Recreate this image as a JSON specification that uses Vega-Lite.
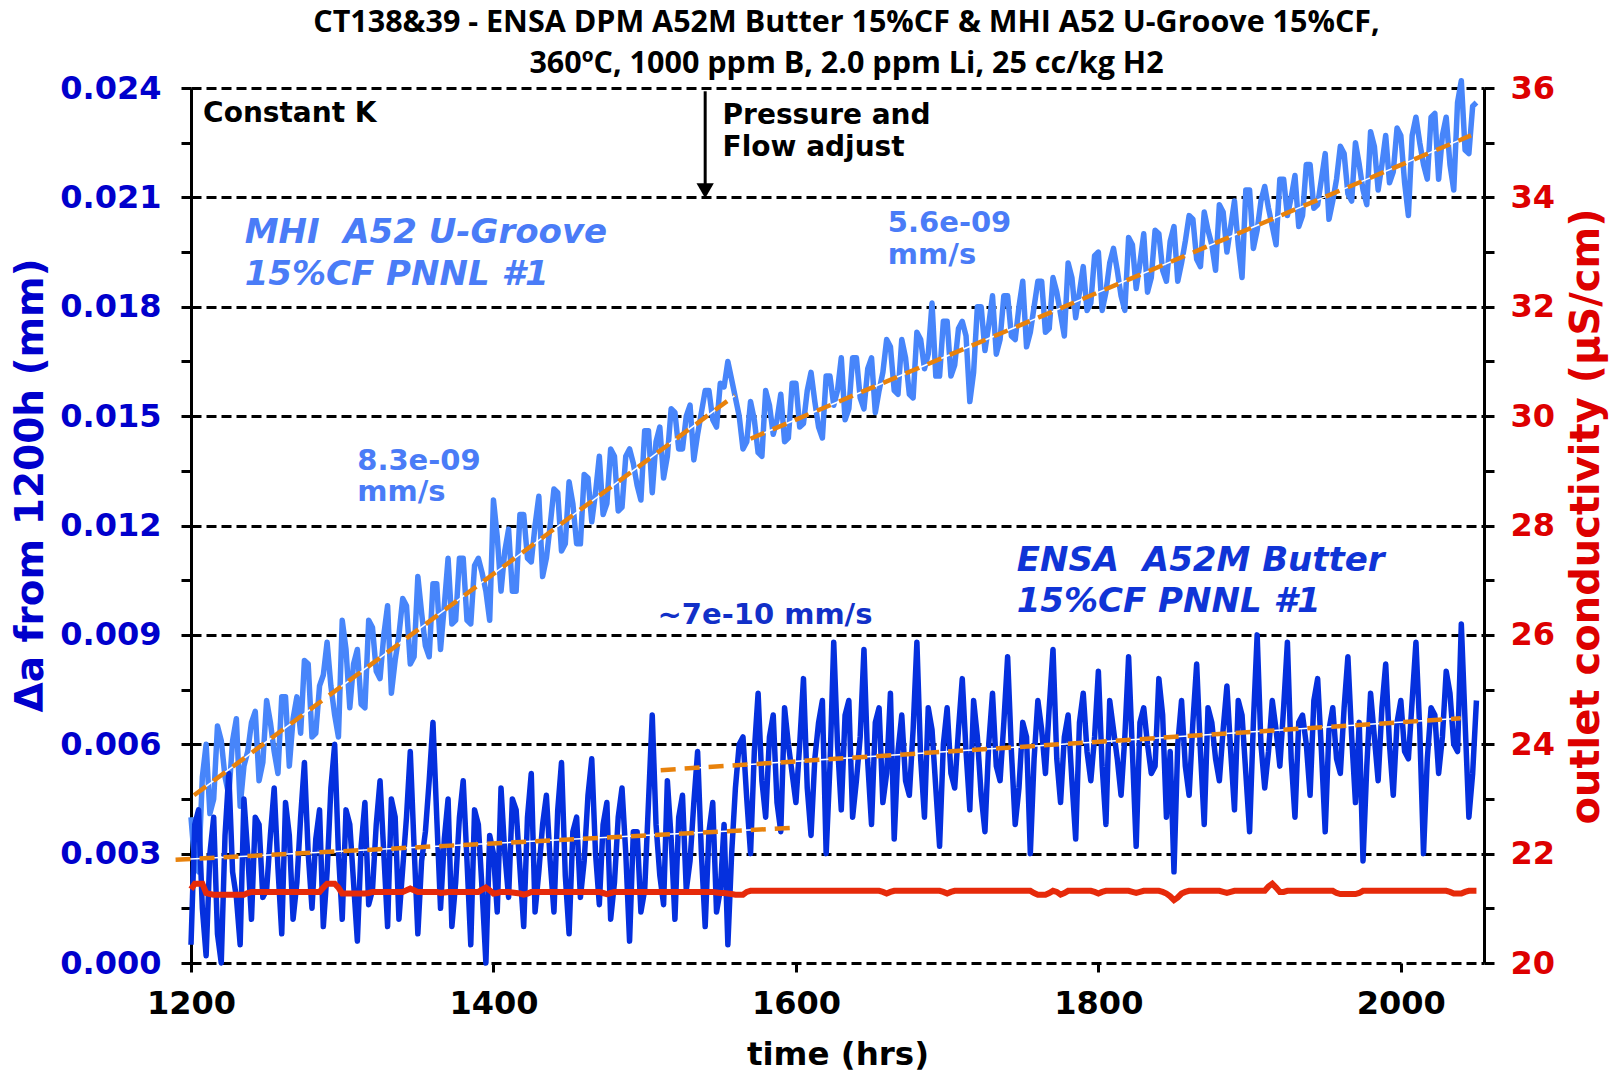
{
"$schema":"https://vega.github.io/schema/vega-lite/v6.json",
"width":1293,"height":875,
"autosize":{"type":"none"},
"padding":{"left":191,"top":88,"right":135,"bottom":110},
"background":"white",
"config":{"view":{"stroke":null},"axis":{"labelFont":"DejaVu Sans","titleFont":"DejaVu Sans","labelOverlap":false,"labelFlush":false}},
"title":{"text":["CT138&39 - ENSA DPM A52M Butter 15%CF & MHI A52 U-Groove 15%CF,","360ºC, 1000 ppm B, 2.0 ppm Li, 25 cc/kg H2"],"font":"Open Sans","fontSize":30.5,"fontWeight":"bold","color":"black","lineHeight":41,"anchor":"middle","offset":12,"dx":9,"dy":19},
"datasets":{"d":[
{"t":1200,"m":0.0040,"e":0.0005,"c":21.35},
{"t":1205,"m":0.0025,"e":0.0042,"c":21.45},
{"t":1210,"m":0.0060,"e":0.0002,"c":21.28},
{"t":1215,"m":0.0045,"e":0.0040,"c":21.25},
{"t":1220,"m":0.0061,"e":0.0000,"c":21.25},
{"t":1225,"m":0.0046,"e":0.0052,"c":21.25},
{"t":1230,"m":0.0067,"e":0.0018,"c":21.25},
{"t":1235,"m":0.0054,"e":0.0045,"c":21.25},
{"t":1240,"m":0.0066,"e":0.0012,"c":21.3},
{"t":1245,"m":0.0050,"e":0.0038,"c":21.3},
{"t":1250,"m":0.0072,"e":0.0020,"c":21.3},
{"t":1255,"m":0.0058,"e":0.0048,"c":21.3},
{"t":1260,"m":0.0073,"e":0.0008,"c":21.3},
{"t":1265,"m":0.0054,"e":0.0035,"c":21.3},
{"t":1270,"m":0.0073,"e":0.0022,"c":21.3},
{"t":1275,"m":0.0083,"e":0.0055,"c":21.3},
{"t":1280,"m":0.0062,"e":0.0015,"c":21.3},
{"t":1285,"m":0.0076,"e":0.0042,"c":21.3},
{"t":1290,"m":0.0088,"e":0.0025,"c":21.45},
{"t":1295,"m":0.0068,"e":0.0060,"c":21.45},
{"t":1300,"m":0.0094,"e":0.0012,"c":21.27},
{"t":1305,"m":0.0070,"e":0.0038,"c":21.27},
{"t":1310,"m":0.0086,"e":0.0006,"c":21.27},
{"t":1315,"m":0.0070,"e":0.0044,"c":21.27},
{"t":1320,"m":0.0092,"e":0.0020,"c":21.3},
{"t":1325,"m":0.0078,"e":0.0050,"c":21.3},
{"t":1330,"m":0.0098,"e":0.0010,"c":21.3},
{"t":1335,"m":0.0083,"e":0.0040,"c":21.3},
{"t":1340,"m":0.0100,"e":0.0026,"c":21.3},
{"t":1345,"m":0.0082,"e":0.0058,"c":21.36},
{"t":1350,"m":0.0106,"e":0.0008,"c":21.3},
{"t":1355,"m":0.0087,"e":0.0036,"c":21.3},
{"t":1360,"m":0.0104,"e":0.0066,"c":21.3},
{"t":1365,"m":0.0086,"e":0.0015,"c":21.28},
{"t":1370,"m":0.0111,"e":0.0045,"c":21.3},
{"t":1375,"m":0.0094,"e":0.0022,"c":21.3},
{"t":1380,"m":0.0111,"e":0.0050,"c":21.3},
{"t":1385,"m":0.0093,"e":0.0005,"c":21.3},
{"t":1390,"m":0.0111,"e":0.0038,"c":21.3},
{"t":1395,"m":0.0102,"e":0.0000,"c":21.38},
{"t":1400,"m":0.0127,"e":0.0030,"c":21.27},
{"t":1405,"m":0.0102,"e":0.0048,"c":21.3},
{"t":1410,"m":0.0119,"e":0.0018,"c":21.3},
{"t":1415,"m":0.0102,"e":0.0042,"c":21.28},
{"t":1420,"m":0.0123,"e":0.0010,"c":21.25},
{"t":1425,"m":0.0110,"e":0.0052,"c":21.3},
{"t":1430,"m":0.0128,"e":0.0025,"c":21.3},
{"t":1435,"m":0.0111,"e":0.0046,"c":21.3},
{"t":1440,"m":0.0130,"e":0.0014,"c":21.3},
{"t":1445,"m":0.0113,"e":0.0055,"c":21.3},
{"t":1450,"m":0.0132,"e":0.0008,"c":21.3},
{"t":1455,"m":0.0115,"e":0.0040,"c":21.3},
{"t":1460,"m":0.0134,"e":0.0028,"c":21.3},
{"t":1465,"m":0.0121,"e":0.0056,"c":21.3},
{"t":1470,"m":0.0139,"e":0.0016,"c":21.3},
{"t":1475,"m":0.0126,"e":0.0044,"c":21.26},
{"t":1480,"m":0.0139,"e":0.0022,"c":21.3},
{"t":1485,"m":0.0125,"e":0.0048,"c":21.3},
{"t":1490,"m":0.0141,"e":0.0006,"c":21.3},
{"t":1495,"m":0.0131,"e":0.0036,"c":21.3},
{"t":1500,"m":0.0146,"e":0.0020,"c":21.3},
{"t":1505,"m":0.0129,"e":0.0068,"c":21.3},
{"t":1510,"m":0.0147,"e":0.0024,"c":21.3},
{"t":1515,"m":0.0139,"e":0.0050,"c":21.3},
{"t":1520,"m":0.0151,"e":0.0012,"c":21.3},
{"t":1525,"m":0.0141,"e":0.0046,"c":21.3},
{"t":1530,"m":0.0153,"e":0.0028,"c":21.3},
{"t":1535,"m":0.0145,"e":0.0058,"c":21.3},
{"t":1540,"m":0.0157,"e":0.0010,"c":21.3},
{"t":1545,"m":0.0149,"e":0.0044,"c":21.3},
{"t":1550,"m":0.0159,"e":0.0020,"c":21.28},
{"t":1555,"m":0.0165,"e":0.0005,"c":21.27},
{"t":1560,"m":0.0155,"e":0.0048,"c":21.25},
{"t":1565,"m":0.0141,"e":0.0062,"c":21.25},
{"t":1570,"m":0.0154,"e":0.0030,"c":21.32},
{"t":1575,"m":0.0140,"e":0.0074,"c":21.32},
{"t":1580,"m":0.0157,"e":0.0040,"c":21.32},
{"t":1585,"m":0.0145,"e":0.0068,"c":21.32},
{"t":1590,"m":0.0156,"e":0.0036,"c":21.32},
{"t":1595,"m":0.0144,"e":0.0060,"c":21.32},
{"t":1600,"m":0.0159,"e":0.0044,"c":21.32},
{"t":1605,"m":0.0148,"e":0.0078,"c":21.32},
{"t":1610,"m":0.0162,"e":0.0035,"c":21.32},
{"t":1615,"m":0.0147,"e":0.0066,"c":21.32},
{"t":1620,"m":0.0161,"e":0.0030,"c":21.32},
{"t":1625,"m":0.0153,"e":0.0088,"c":21.32},
{"t":1630,"m":0.0166,"e":0.0042,"c":21.32},
{"t":1635,"m":0.0152,"e":0.0072,"c":21.32},
{"t":1640,"m":0.0166,"e":0.0050,"c":21.32},
{"t":1645,"m":0.0152,"e":0.0086,"c":21.32},
{"t":1650,"m":0.0166,"e":0.0038,"c":21.32},
{"t":1655,"m":0.0157,"e":0.0070,"c":21.32},
{"t":1660,"m":0.0171,"e":0.0052,"c":21.27},
{"t":1665,"m":0.0157,"e":0.0034,"c":21.32},
{"t":1670,"m":0.0171,"e":0.0068,"c":21.32},
{"t":1675,"m":0.0156,"e":0.0046,"c":21.32},
{"t":1680,"m":0.0173,"e":0.0088,"c":21.32},
{"t":1685,"m":0.0163,"e":0.0040,"c":21.32},
{"t":1690,"m":0.0181,"e":0.0064,"c":21.32},
{"t":1695,"m":0.0161,"e":0.0032,"c":21.32},
{"t":1700,"m":0.0176,"e":0.0070,"c":21.27},
{"t":1705,"m":0.0164,"e":0.0048,"c":21.32},
{"t":1710,"m":0.0176,"e":0.0078,"c":21.32},
{"t":1715,"m":0.0154,"e":0.0042,"c":21.32},
{"t":1720,"m":0.0180,"e":0.0062,"c":21.32},
{"t":1725,"m":0.0168,"e":0.0036,"c":21.32},
{"t":1730,"m":0.0183,"e":0.0074,"c":21.32},
{"t":1735,"m":0.0171,"e":0.0050,"c":21.32},
{"t":1740,"m":0.0183,"e":0.0084,"c":21.32},
{"t":1745,"m":0.0171,"e":0.0038,"c":21.32},
{"t":1750,"m":0.0187,"e":0.0066,"c":21.32},
{"t":1755,"m":0.0173,"e":0.0030,"c":21.32},
{"t":1760,"m":0.0187,"e":0.0072,"c":21.25},
{"t":1765,"m":0.0173,"e":0.0052,"c":21.25},
{"t":1770,"m":0.0188,"e":0.0086,"c":21.32},
{"t":1775,"m":0.0178,"e":0.0044,"c":21.25},
{"t":1780,"m":0.0192,"e":0.0068,"c":21.32},
{"t":1785,"m":0.0177,"e":0.0034,"c":21.32},
{"t":1790,"m":0.0191,"e":0.0074,"c":21.32},
{"t":1795,"m":0.0181,"e":0.0050,"c":21.32},
{"t":1800,"m":0.0195,"e":0.0080,"c":21.27},
{"t":1805,"m":0.0184,"e":0.0038,"c":21.32},
{"t":1810,"m":0.0196,"e":0.0064,"c":21.32},
{"t":1815,"m":0.0183,"e":0.0046,"c":21.32},
{"t":1820,"m":0.0199,"e":0.0084,"c":21.32},
{"t":1825,"m":0.0185,"e":0.0032,"c":21.28},
{"t":1830,"m":0.0200,"e":0.0070,"c":21.32},
{"t":1835,"m":0.0188,"e":0.0052,"c":21.32},
{"t":1840,"m":0.0200,"e":0.0078,"c":21.32},
{"t":1845,"m":0.0187,"e":0.0040,"c":21.27},
{"t":1850,"m":0.0202,"e":0.0025,"c":21.15},
{"t":1855,"m":0.0192,"e":0.0072,"c":21.27},
{"t":1860,"m":0.0205,"e":0.0046,"c":21.32},
{"t":1865,"m":0.0193,"e":0.0082,"c":21.32},
{"t":1870,"m":0.0206,"e":0.0038,"c":21.32},
{"t":1875,"m":0.0197,"e":0.0066,"c":21.32},
{"t":1880,"m":0.0208,"e":0.0050,"c":21.32},
{"t":1885,"m":0.0195,"e":0.0076,"c":21.28},
{"t":1890,"m":0.0209,"e":0.0042,"c":21.32},
{"t":1895,"m":0.0188,"e":0.0068,"c":21.32},
{"t":1900,"m":0.0212,"e":0.0036,"c":21.32},
{"t":1905,"m":0.0201,"e":0.0090,"c":21.32},
{"t":1910,"m":0.0213,"e":0.0048,"c":21.32},
{"t":1915,"m":0.0202,"e":0.0072,"c":21.45},
{"t":1920,"m":0.0215,"e":0.0054,"c":21.3},
{"t":1925,"m":0.0205,"e":0.0088,"c":21.32},
{"t":1930,"m":0.0216,"e":0.0040,"c":21.32},
{"t":1935,"m":0.0205,"e":0.0068,"c":21.32},
{"t":1940,"m":0.0219,"e":0.0046,"c":21.32},
{"t":1945,"m":0.0208,"e":0.0078,"c":21.32},
{"t":1950,"m":0.0222,"e":0.0036,"c":21.32},
{"t":1955,"m":0.0209,"e":0.0070,"c":21.32},
{"t":1960,"m":0.0224,"e":0.0052,"c":21.26},
{"t":1965,"m":0.0211,"e":0.0084,"c":21.26},
{"t":1970,"m":0.0225,"e":0.0044,"c":21.26},
{"t":1975,"m":0.0212,"e":0.0028,"c":21.32},
{"t":1980,"m":0.0228,"e":0.0074,"c":21.32},
{"t":1985,"m":0.0212,"e":0.0050,"c":21.32},
{"t":1990,"m":0.0227,"e":0.0082,"c":21.32},
{"t":1995,"m":0.0217,"e":0.0046,"c":21.32},
{"t":2000,"m":0.0227,"e":0.0072,"c":21.32},
{"t":2005,"m":0.0205,"e":0.0056,"c":21.32},
{"t":2010,"m":0.0232,"e":0.0088,"c":21.32},
{"t":2015,"m":0.0219,"e":0.0030,"c":21.32},
{"t":2020,"m":0.0232,"e":0.0070,"c":21.32},
{"t":2025,"m":0.0215,"e":0.0052,"c":21.32},
{"t":2030,"m":0.0232,"e":0.0080,"c":21.32},
{"t":2035,"m":0.0212,"e":0.0060,"c":21.27},
{"t":2040,"m":0.0242,"e":0.0093,"c":21.27},
{"t":2045,"m":0.0222,"e":0.0040,"c":21.32},
{"t":2050,"m":0.0236,"e":0.0072,"c":21.32},
{"t":1202.5,"m":0.0027,"e":0.0038,"c":21.45},
{"t":1207.5,"m":0.0051,"e":0.0015,"c":21.45},
{"t":1212.5,"m":0.0041,"e":0.0030,"c":21.26},
{"t":1217.5,"m":0.0065,"e":0.0008,"c":21.25},
{"t":1222.5,"m":0.0051,"e":0.0035,"c":21.25},
{"t":1227.5,"m":0.0061,"e":0.0025,"c":21.25},
{"t":1232.5,"m":0.0043,"e":0.0005,"c":21.25},
{"t":1237.5,"m":0.0058,"e":0.0030,"c":21.28},
{"t":1242.5,"m":0.0069,"e":0.0040,"c":21.3},
{"t":1247.5,"m":0.0055,"e":0.0018,"c":21.3},
{"t":1252.5,"m":0.0066,"e":0.0035,"c":21.3},
{"t":1257.5,"m":0.0052,"e":0.0026,"c":21.3},
{"t":1262.5,"m":0.0073,"e":0.0044,"c":21.3},
{"t":1267.5,"m":0.0067,"e":0.0012,"c":21.3},
{"t":1272.5,"m":0.0063,"e":0.0040,"c":21.3},
{"t":1277.5,"m":0.0082,"e":0.0030,"c":21.3},
{"t":1282.5,"m":0.0063,"e":0.0034,"c":21.3},
{"t":1287.5,"m":0.0079,"e":0.0010,"c":21.38},
{"t":1292.5,"m":0.0076,"e":0.0048,"c":21.45},
{"t":1297.5,"m":0.0062,"e":0.0030,"c":21.38},
{"t":1302.5,"m":0.0086,"e":0.0042,"c":21.27},
{"t":1307.5,"m":0.0082,"e":0.0022,"c":21.27},
{"t":1312.5,"m":0.0071,"e":0.0032,"c":21.27},
{"t":1317.5,"m":0.0094,"e":0.0016,"c":21.28},
{"t":1322.5,"m":0.0080,"e":0.0038,"c":21.3},
{"t":1327.5,"m":0.0090,"e":0.0030,"c":21.3},
{"t":1332.5,"m":0.0074,"e":0.0045,"c":21.3},
{"t":1337.5,"m":0.0090,"e":0.0012,"c":21.3},
{"t":1342.5,"m":0.0098,"e":0.0040,"c":21.33},
{"t":1347.5,"m":0.0084,"e":0.0032,"c":21.33},
{"t":1352.5,"m":0.0096,"e":0.0028,"c":21.3},
{"t":1357.5,"m":0.0084,"e":0.0050,"c":21.3},
{"t":1362.5,"m":0.0104,"e":0.0040,"c":21.3},
{"t":1367.5,"m":0.0098,"e":0.0034,"c":21.29},
{"t":1372.5,"m":0.0093,"e":0.0010,"c":21.3},
{"t":1377.5,"m":0.0111,"e":0.0040,"c":21.3},
{"t":1382.5,"m":0.0094,"e":0.0028,"c":21.3},
{"t":1387.5,"m":0.0109,"e":0.0042,"c":21.3},
{"t":1392.5,"m":0.0107,"e":0.0020,"c":21.34},
{"t":1397.5,"m":0.0094,"e":0.0035,"c":21.33},
{"t":1402.5,"m":0.0117,"e":0.0014,"c":21.28},
{"t":1407.5,"m":0.0113,"e":0.0030,"c":21.3},
{"t":1412.5,"m":0.0102,"e":0.0045,"c":21.29},
{"t":1417.5,"m":0.0123,"e":0.0026,"c":21.27},
{"t":1422.5,"m":0.0111,"e":0.0040,"c":21.27},
{"t":1427.5,"m":0.0120,"e":0.0014,"c":21.3},
{"t":1432.5,"m":0.0106,"e":0.0038,"c":21.3},
{"t":1437.5,"m":0.0120,"e":0.0028,"c":21.3},
{"t":1442.5,"m":0.0129,"e":0.0042,"c":21.3},
{"t":1447.5,"m":0.0115,"e":0.0024,"c":21.3},
{"t":1452.5,"m":0.0126,"e":0.0036,"c":21.3},
{"t":1457.5,"m":0.0115,"e":0.0018,"c":21.3},
{"t":1462.5,"m":0.0133,"e":0.0046,"c":21.3},
{"t":1467.5,"m":0.0129,"e":0.0030,"c":21.3},
{"t":1472.5,"m":0.0123,"e":0.0038,"c":21.28},
{"t":1477.5,"m":0.0141,"e":0.0012,"c":21.28},
{"t":1482.5,"m":0.0124,"e":0.0040,"c":21.3},
{"t":1487.5,"m":0.0139,"e":0.0030,"c":21.3},
{"t":1492.5,"m":0.0137,"e":0.0036,"c":21.3},
{"t":1497.5,"m":0.0127,"e":0.0014,"c":21.3},
{"t":1502.5,"m":0.0146,"e":0.0044,"c":21.3},
{"t":1507.5,"m":0.0143,"e":0.0038,"c":21.3},
{"t":1512.5,"m":0.0133,"e":0.0016,"c":21.3},
{"t":1517.5,"m":0.0152,"e":0.0034,"c":21.3},
{"t":1522.5,"m":0.0141,"e":0.0040,"c":21.3},
{"t":1527.5,"m":0.0150,"e":0.0020,"c":21.3},
{"t":1532.5,"m":0.0138,"e":0.0044,"c":21.3},
{"t":1537.5,"m":0.0151,"e":0.0030,"c":21.3},
{"t":1542.5,"m":0.0157,"e":0.0036,"c":21.3},
{"t":1547.5,"m":0.0147,"e":0.0014,"c":21.29},
{"t":1552.5,"m":0.0158,"e":0.0038,"c":21.28},
{"t":1557.5,"m":0.0160,"e":0.0030,"c":21.26},
{"t":1562.5,"m":0.0150,"e":0.0060,"c":21.25},
{"t":1567.5,"m":0.0143,"e":0.0045,"c":21.3},
{"t":1572.5,"m":0.0149,"e":0.0058,"c":21.32},
{"t":1577.5,"m":0.0139,"e":0.0050,"c":21.32},
{"t":1582.5,"m":0.0153,"e":0.0062,"c":21.32},
{"t":1587.5,"m":0.0149,"e":0.0044,"c":21.32},
{"t":1592.5,"m":0.0143,"e":0.0070,"c":21.32},
{"t":1597.5,"m":0.0159,"e":0.0052,"c":21.32},
{"t":1602.5,"m":0.0147,"e":0.0060,"c":21.32},
{"t":1607.5,"m":0.0157,"e":0.0048,"c":21.32},
{"t":1612.5,"m":0.0154,"e":0.0056,"c":21.32},
{"t":1617.5,"m":0.0144,"e":0.0072,"c":21.32},
{"t":1622.5,"m":0.0161,"e":0.0054,"c":21.32},
{"t":1627.5,"m":0.0157,"e":0.0060,"c":21.32},
{"t":1632.5,"m":0.0149,"e":0.0068,"c":21.32},
{"t":1637.5,"m":0.0166,"e":0.0040,"c":21.32},
{"t":1642.5,"m":0.0155,"e":0.0062,"c":21.32},
{"t":1647.5,"m":0.0163,"e":0.0055,"c":21.32},
{"t":1652.5,"m":0.0151,"e":0.0066,"c":21.32},
{"t":1657.5,"m":0.0162,"e":0.0044,"c":21.3},
{"t":1662.5,"m":0.0169,"e":0.0074,"c":21.3},
{"t":1667.5,"m":0.0156,"e":0.0058,"c":21.32},
{"t":1672.5,"m":0.0166,"e":0.0050,"c":21.32},
{"t":1677.5,"m":0.0155,"e":0.0064,"c":21.32},
{"t":1682.5,"m":0.0171,"e":0.0056,"c":21.32},
{"t":1687.5,"m":0.0167,"e":0.0070,"c":21.32},
{"t":1692.5,"m":0.0161,"e":0.0048,"c":21.32},
{"t":1697.5,"m":0.0176,"e":0.0060,"c":21.3},
{"t":1702.5,"m":0.0161,"e":0.0052,"c":21.3},
{"t":1707.5,"m":0.0174,"e":0.0064,"c":21.32},
{"t":1712.5,"m":0.0172,"e":0.0058,"c":21.32},
{"t":1717.5,"m":0.0162,"e":0.0072,"c":21.32},
{"t":1722.5,"m":0.0180,"e":0.0046,"c":21.32},
{"t":1727.5,"m":0.0175,"e":0.0060,"c":21.32},
{"t":1732.5,"m":0.0167,"e":0.0054,"c":21.32},
{"t":1737.5,"m":0.0183,"e":0.0066,"c":21.32},
{"t":1742.5,"m":0.0172,"e":0.0058,"c":21.32},
{"t":1747.5,"m":0.0180,"e":0.0048,"c":21.32},
{"t":1752.5,"m":0.0169,"e":0.0062,"c":21.32},
{"t":1757.5,"m":0.0180,"e":0.0056,"c":21.28},
{"t":1762.5,"m":0.0187,"e":0.0064,"c":21.25},
{"t":1767.5,"m":0.0174,"e":0.0070,"c":21.28},
{"t":1772.5,"m":0.0184,"e":0.0056,"c":21.3},
{"t":1777.5,"m":0.0172,"e":0.0062,"c":21.28},
{"t":1782.5,"m":0.0188,"e":0.0050,"c":21.32},
{"t":1787.5,"m":0.0184,"e":0.0066,"c":21.32},
{"t":1792.5,"m":0.0179,"e":0.0058,"c":21.32},
{"t":1797.5,"m":0.0194,"e":0.0062,"c":21.3},
{"t":1802.5,"m":0.0179,"e":0.0054,"c":21.3},
{"t":1807.5,"m":0.0192,"e":0.0072,"c":21.32},
{"t":1812.5,"m":0.0190,"e":0.0056,"c":21.32},
{"t":1817.5,"m":0.0179,"e":0.0062,"c":21.32},
{"t":1822.5,"m":0.0197,"e":0.0058,"c":21.3},
{"t":1827.5,"m":0.0192,"e":0.0066,"c":21.3},
{"t":1832.5,"m":0.0184,"e":0.0060,"c":21.32},
{"t":1837.5,"m":0.0201,"e":0.0054,"c":21.32},
{"t":1842.5,"m":0.0190,"e":0.0068,"c":21.3},
{"t":1847.5,"m":0.0198,"e":0.0058,"c":21.22},
{"t":1852.5,"m":0.0187,"e":0.0060,"c":21.2},
{"t":1857.5,"m":0.0198,"e":0.0054,"c":21.3},
{"t":1862.5,"m":0.0204,"e":0.0066,"c":21.32},
{"t":1867.5,"m":0.0191,"e":0.0058,"c":21.32},
{"t":1872.5,"m":0.0201,"e":0.0070,"c":21.32},
{"t":1877.5,"m":0.0190,"e":0.0056,"c":21.32},
{"t":1882.5,"m":0.0206,"e":0.0064,"c":21.3},
{"t":1887.5,"m":0.0202,"e":0.0058,"c":21.3},
{"t":1892.5,"m":0.0197,"e":0.0072,"c":21.32},
{"t":1897.5,"m":0.0212,"e":0.0052,"c":21.32},
{"t":1902.5,"m":0.0196,"e":0.0066,"c":21.32},
{"t":1907.5,"m":0.0209,"e":0.0060,"c":21.32},
{"t":1912.5,"m":0.0207,"e":0.0058,"c":21.4},
{"t":1917.5,"m":0.0197,"e":0.0064,"c":21.38},
{"t":1922.5,"m":0.0215,"e":0.0070,"c":21.3},
{"t":1927.5,"m":0.0210,"e":0.0056,"c":21.32},
{"t":1932.5,"m":0.0202,"e":0.0066,"c":21.32},
{"t":1937.5,"m":0.0219,"e":0.0060,"c":21.32},
{"t":1942.5,"m":0.0207,"e":0.0072,"c":21.32},
{"t":1947.5,"m":0.0215,"e":0.0058,"c":21.32},
{"t":1952.5,"m":0.0204,"e":0.0064,"c":21.32},
{"t":1957.5,"m":0.0215,"e":0.0056,"c":21.28},
{"t":1962.5,"m":0.0222,"e":0.0070,"c":21.26},
{"t":1967.5,"m":0.0209,"e":0.0062,"c":21.26},
{"t":1972.5,"m":0.0219,"e":0.0066,"c":21.28},
{"t":1977.5,"m":0.0208,"e":0.0054,"c":21.32},
{"t":1982.5,"m":0.0224,"e":0.0062,"c":21.32},
{"t":1987.5,"m":0.0219,"e":0.0070,"c":21.32},
{"t":1992.5,"m":0.0214,"e":0.0060,"c":21.32},
{"t":1997.5,"m":0.0229,"e":0.0066,"c":21.32},
{"t":2002.5,"m":0.0214,"e":0.0058,"c":21.32},
{"t":2007.5,"m":0.0227,"e":0.0072,"c":21.32},
{"t":2012.5,"m":0.0225,"e":0.0064,"c":21.32},
{"t":2017.5,"m":0.0215,"e":0.0056,"c":21.32},
{"t":2022.5,"m":0.0233,"e":0.0068,"c":21.32},
{"t":2027.5,"m":0.0227,"e":0.0062,"c":21.32},
{"t":2032.5,"m":0.0219,"e":0.0074,"c":21.3},
{"t":2037.5,"m":0.0236,"e":0.0058,"c":21.27},
{"t":2042.5,"m":0.0223,"e":0.0066,"c":21.3},
{"t":2047.5,"m":0.0235,"e":0.0052,"c":21.32}
],
"fits":[
{"s":"m1","t":1202,"v":0.0046},{"s":"m1","t":1559.7,"v":0.01557},
{"s":"m2","t":1570,"v":0.01438},{"s":"m2","t":2046.4,"v":0.0227},
{"s":"e1","t":1189.8,"v":0.00283},{"s":"e1","t":1599,"v":0.00371},
{"s":"e2","t":1510.6,"v":0.00529},{"s":"e2","t":2039.6,"v":0.00671}
]},
"layer":[
{"layer":[
{"data":{"name":"d"},"mark":{"type":"line","color":"#4785FA","strokeWidth":5.5,"strokeJoin":"round"},
 "encoding":{
  "x":{"field":"t","type":"quantitative","scale":{"domain":[1200,2055],"nice":false,"zero":false},
   "axis":{"values":[1200,1400,1600,1800,2000],"format":"d","grid":false,"domain":false,"tickColor":"black","tickWidth":3,"tickSize":9,"labelFontSize":32,"labelFontWeight":"bold","labelColor":"black","labelPadding":16,"title":"time (hrs)","titleFontSize":32.5,"titleFontWeight":"bold","titlePadding":19,"titleColor":"black"}},
  "y":{"field":"m","type":"quantitative","scale":{"domain":[0,0.024],"nice":false,"zero":false},
   "axis":{"orient":"left","values":[0,0.0015,0.003,0.0045,0.006,0.0075,0.009,0.0105,0.012,0.0135,0.015,0.0165,0.018,0.0195,0.021,0.0225,0.024],
    "labelExpr":"round(datum.value/0.0015)%2==0 ? format(datum.value,'.3f') : ''",
    "grid":true,"gridDash":[10,5],"gridColor":"black","gridWidth":3,
    "gridOpacity":{"condition":{"test":"round(datum.value/0.0015)%2==0","value":1},"value":0},
    "domainColor":"black","domainWidth":3,"tickColor":"black","tickWidth":3,"tickSize":10,
    "labelFontSize":32,"labelFontWeight":"bold","labelColor":"#0000CC","labelPadding":20,
    "title":"Δa from 1200h (mm)","titleFontSize":39,"titleFontWeight":"bold","titleColor":"#0000CC","titlePadding":9,"titleY":397}}
 }},
{"data":{"name":"d"},"mark":{"type":"line","color":"#0530DE","strokeWidth":5.5,"strokeJoin":"round"},
 "encoding":{"x":{"field":"t","type":"quantitative"},"y":{"field":"e","type":"quantitative"}}},
{"data":{"name":"fits"},"mark":{"type":"line","color":"white","strokeWidth":1.5},
 "encoding":{"x":{"field":"t","type":"quantitative"},"y":{"field":"v","type":"quantitative"},"detail":{"field":"s"}}},
{"data":{"name":"fits"},"mark":{"type":"line","color":"#E8820C","strokeWidth":4.5,"strokeDash":[15,9]},
 "encoding":{"x":{"field":"t","type":"quantitative"},"y":{"field":"v","type":"quantitative"},"detail":{"field":"s"}}},
{"data":{"values":[{"t":1540,"v":0.02391,"v2":0.0213}]},"mark":{"type":"rule","color":"black","strokeWidth":3},
 "encoding":{"x":{"field":"t","type":"quantitative"},"y":{"field":"v","type":"quantitative"},"y2":{"field":"v2"}}},
{"data":{"values":[{"t":1540,"v":0.02118}]},"mark":{"type":"point","shape":"triangle-down","filled":true,"color":"black","size":300,"opacity":1},
 "encoding":{"x":{"field":"t","type":"quantitative"},"y":{"field":"v","type":"quantitative"}}},
{"data":{"values":[{"t":1208,"v":0.02329,"label":"Constant K"},{"t":1551.5,"v":0.02324,"label":"Pressure and"},{"t":1551.5,"v":0.02236,"label":"Flow adjust"}]},
 "mark":{"type":"text","align":"left","baseline":"middle","font":"DejaVu Sans","fontSize":28,"fontWeight":"bold","color":"black"},
 "encoding":{"x":{"field":"t","type":"quantitative"},"y":{"field":"v","type":"quantitative"},"text":{"field":"label"}}},
{"data":{"values":[{"t":1235.5,"v":0.02001,"label":"MHI\u00a0 A52 U-Groove"},{"t":1235.5,"v":0.01888,"label":"15%CF PNNL #1"}]},
 "mark":{"type":"text","align":"left","baseline":"middle","font":"DejaVu Sans","fontSize":34,"fontWeight":"bold","fontStyle":"italic","color":"#4A7CF7"},
 "encoding":{"x":{"field":"t","type":"quantitative"},"y":{"field":"v","type":"quantitative"},"text":{"field":"label"}}},
{"data":{"values":[{"t":1309.9,"v":0.01378,"label":"8.3e-09"},{"t":1309.9,"v":0.01293,"label":"mm/s"},{"t":1660.8,"v":0.02029,"label":"5.6e-09"},{"t":1660.8,"v":0.01942,"label":"mm/s"}]},
 "mark":{"type":"text","align":"left","baseline":"middle","font":"DejaVu Sans","fontSize":29,"fontWeight":"bold","color":"#4A7CF7"},
 "encoding":{"x":{"field":"t","type":"quantitative"},"y":{"field":"v","type":"quantitative"},"text":{"field":"label"}}},
{"data":{"values":[{"t":1746,"v":0.01104,"label":"ENSA\u00a0 A52M Butter"},{"t":1746,"v":0.00991,"label":"15%CF PNNL #1"}]},
 "mark":{"type":"text","align":"left","baseline":"middle","font":"DejaVu Sans","fontSize":34,"fontWeight":"bold","fontStyle":"italic","color":"#1034D6"},
 "encoding":{"x":{"field":"t","type":"quantitative"},"y":{"field":"v","type":"quantitative"},"text":{"field":"label"}}},
{"data":{"values":[{"t":1508.5,"v":0.00954,"label":"~7e-10 mm/s"}]},
 "mark":{"type":"text","align":"left","baseline":"middle","font":"DejaVu Sans","fontSize":29,"fontWeight":"bold","color":"#1230C8"},
 "encoding":{"x":{"field":"t","type":"quantitative"},"y":{"field":"v","type":"quantitative"},"text":{"field":"label"}}}
]},
{"data":{"name":"d"},"mark":{"type":"line","color":"#E62A0A","strokeWidth":6},
 "encoding":{"x":{"field":"t","type":"quantitative"},
  "y":{"field":"c","type":"quantitative","scale":{"domain":[20,36],"nice":false,"zero":false},
   "axis":{"orient":"right","values":[20,21,22,23,24,25,26,27,28,29,30,31,32,33,34,35,36],
    "labelExpr":"datum.value%2==0 ? datum.value : ''","grid":false,
    "domainColor":"black","domainWidth":3,"tickColor":"black","tickWidth":3,"tickSize":10,
    "labelFontSize":32,"labelFontWeight":"bold","labelColor":"#DD0000","labelPadding":16,
    "title":"outlet conductivity (μS/cm)","titleFontSize":40,"titleFontWeight":"bold","titleColor":"#DD0000","titleAngle":270,"titlePadding":52,"titleY":428}}}}
],
"resolve":{"scale":{"y":"independent"}}
}
